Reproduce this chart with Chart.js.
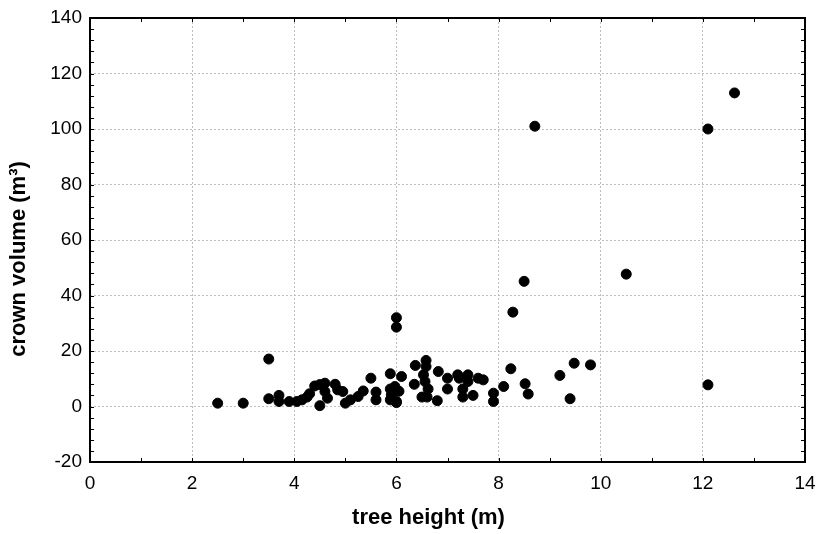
<!DOCTYPE html>
<html lang="en">
<head>
  <meta charset="UTF-8" />
  <title>Crown volume vs tree height</title>
  <script src="https://cdn.jsdelivr.net/npm/chart.js"></script>
  <style>
    body { margin: 0; background: #fff; }
    .wrap { width: 816px; height: 534px; }
  </style>
</head>
<body>
<div class="wrap"><canvas id="scatter"></canvas></div>
<script>
  // tree height (m)
  const heights = [
    2.5, 3.0, 3.5, 3.5, 3.7, 3.7, 3.9, 4.05, 4.15, 4.25,
    4.3, 4.4, 4.5, 4.6, 4.5, 4.6, 4.65, 4.8, 4.85, 4.95,
    5.0, 5.1, 5.25, 5.35, 5.5, 5.6, 5.6, 5.88, 5.88, 5.97,
    5.9, 5.88, 6.0, 6.0, 6.0, 6.1, 6.05, 6.0, 6.37, 6.35,
    6.58, 6.58, 6.53, 6.56, 6.62, 6.5, 6.6, 6.8, 6.82, 7.0,
    7.0, 7.2, 7.23, 7.4, 7.4, 7.3, 7.3, 7.5, 7.6, 7.7,
    7.9, 7.9, 8.1, 8.24, 8.28, 8.5, 8.71, 8.52, 8.58, 9.2,
    9.4, 9.48, 9.8, 10.5, 12.1, 12.1, 12.62
  ];
  // crown volume (m3)
  const volumes = [
    1.2, 1.2, 17.1, 2.8, 4.0, 1.8, 1.8, 1.8, 2.4, 3.4,
    4.6, 7.4, 7.9, 8.4, 0.3, 5.4, 3.0, 8.0, 6.0, 5.4,
    1.2, 2.4, 3.6, 5.6, 10.2, 5.2, 2.4, 11.8, 6.3, 7.2,
    4.2, 2.4, 1.4, 32.0, 28.6, 10.8, 5.5, 1.8, 14.8, 8.0,
    16.6, 14.4, 11.4, 9.0, 6.3, 3.4, 3.4, 2.1, 12.6, 10.2,
    6.3, 11.4, 10.2, 11.4, 9.0, 6.3, 3.4, 4.0, 10.2, 9.6,
    4.8, 1.8, 7.2, 13.6, 34.0, 45.1, 101.0, 8.2, 4.5, 11.2,
    2.8, 15.6, 15.0, 47.7, 100.0, 7.8, 113.0
  ];
  const xTicks = [0, 2, 4, 6, 8, 10, 12, 14];
  const yTicks = [-20, 0, 20, 40, 60, 80, 100, 120, 140];
  const xTitle = 'tree height (m)';
  const yTitle = 'crown volume (m³)';

  const points = heights.map((h, i) => ({ x: h, y: volumes[i] }));

  // frame on all four sides, small inward ticks, axis titles
  const framePlugin = {
    id: 'frame',
    afterDraw(chart) {
      const { ctx, chartArea: a, scales: { x, y } } = chart;
      ctx.save();
      ctx.strokeStyle = '#000';
      ctx.lineWidth = 1;
      for (let v = 1; v < 14; v++) {
        const px = Math.round(x.getPixelForValue(v)) + 0.5;
        ctx.beginPath();
        ctx.moveTo(px, a.bottom); ctx.lineTo(px, a.bottom - 4);
        ctx.moveTo(px, a.top); ctx.lineTo(px, a.top + 4);
        ctx.stroke();
      }
      for (let v = -16; v < 140; v += 4) {
        const py = Math.round(y.getPixelForValue(v)) + 0.5;
        ctx.beginPath();
        ctx.moveTo(a.left, py); ctx.lineTo(a.left + 4, py);
        ctx.moveTo(a.right, py); ctx.lineTo(a.right - 4, py);
        ctx.stroke();
      }
      ctx.lineWidth = 2;
      ctx.strokeRect(a.left, a.top, a.right - a.left, a.bottom - a.top);

      // titles sit a bit off-centre, as in the original
      ctx.fillStyle = '#000';
      ctx.font = 'bold 22px "Liberation Sans", Arial, sans-serif';
      ctx.textAlign = 'center';
      ctx.textBaseline = 'middle';
      ctx.fillText(xTitle, (a.left + a.right) / 2 - 19, 518);
      ctx.translate(19, (a.top + a.bottom) / 2 + 19);
      ctx.rotate(-Math.PI / 2);
      ctx.fillText(yTitle, 0, 0);
      ctx.restore();
    }
  };

  const tickFont = { family: 'Liberation Sans, Arial, sans-serif', size: 19 };
  const gridOpts = { color: '#bdbdbd', lineWidth: 1, drawTicks: false };

  new Chart(document.getElementById('scatter'), {
    type: 'scatter',
    data: {
      datasets: [{
        data: points,
        backgroundColor: '#000',
        borderColor: '#000',
        pointRadius: 5,
        pointHoverRadius: 5
      }]
    },
    options: {
      responsive: true,
      maintainAspectRatio: false,
      animation: false,
      layout: { padding: { top: 18, right: 11, left: 0, bottom: 0 } },
      plugins: { legend: { display: false }, tooltip: { enabled: false } },
      scales: {
        x: {
          type: 'linear', min: 0, max: 14,
          afterBuildTicks: s => { s.ticks = xTicks.map(v => ({ value: v })); },
          afterFit: s => { s.height = 72; s.paddingLeft = 0; s.paddingRight = 0; },
          grid: gridOpts,
          border: { display: false, dash: [2, 2] },
          ticks: { color: '#000', font: tickFont, padding: 10, maxRotation: 0 }
        },
        y: {
          type: 'linear', min: -20, max: 140,
          afterBuildTicks: s => { s.ticks = yTicks.map(v => ({ value: v })); },
          afterFit: s => { s.width = 90; s.paddingTop = 0; s.paddingBottom = 0; },
          grid: gridOpts,
          border: { display: false, dash: [2, 2] },
          ticks: { color: '#000', font: tickFont, padding: 8 }
        }
      }
    },
    plugins: [framePlugin]
  });
</script>
</body>
</html>
